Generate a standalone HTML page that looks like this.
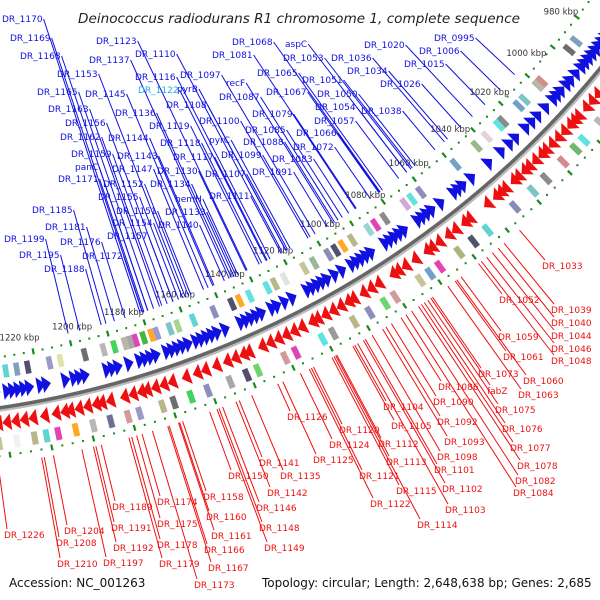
<!DOCTYPE html>
<html><head><meta charset="utf-8">
<style>
html,body{margin:0;padding:0;background:#fff;}
svg{display:block;}
text{font-family:"DejaVu Sans","Liberation Sans",sans-serif;}
</style></head>
<body>
<svg id="map" width="600" height="600" viewBox="0 0 600 600" xmlns="http://www.w3.org/2000/svg">
<rect width="600" height="600" fill="#fff"/>
<g id="marks"></g>
<text x="299" y="23" text-anchor="middle" font-size="13.6" font-style="italic" fill="#222">Deinococcus radiodurans R1 chromosome 1, complete sequence</text>
<text x="9" y="587" font-size="12" fill="#111">Accession: NC_001263</text>
<text x="262" y="587" font-size="12" fill="#111">Topology: circular; Length: 2,648,638 bp; Genes: 2,685</text>
</svg>
<script>
// ---- data ----
const tickKbp = [980,1000,1020,1040,1060,1080,1100,1120,1140,1160,1180,1200,1220];
const fwdGenes = [975,977,979,981,983,985,987,989,992,995,997,1000,1002,1004,1008,1012,1015,1018,1023,1026,1030,1036,1044,1048,1050,1052,1058,1062,1064,1066,1068,1074,1076,1078,1080,1082,1088,1090,1092,1094,1096,1100,1103,1106,1108,1110,1112,1114,1120,1123,1126,1128,1132,1134,1136,1138,1140,1146,1149,1151,1153,1155,1157,1160,1162,1164,1166,1168,1172,1174,1176,1178,1182,1186,1188,1190,1198,1200,1202,1205,1212,1214,1218,1220,1222,1224,1226,1230,1232,1234];
const revGenes = [978,982,986,990,993,996,999,1003,1005,1007,1010,1013,1016,1019,1021,1024,1027,1029,1032,1034,1038,1040,1042,1046,1054,1056,1060,1063,1067,1070,1072,1077,1081,1084,1086,1092,1095,1098,1102,1104,1107,1110,1113,1116,1118,1122,1125,1128,1131,1134,1137,1142,1144,1147,1150,1154,1158,1161,1165,1170,1173,1176,1179,1181,1184,1187,1192,1195,1197,1200,1203,1206,1208,1211,1215,1219,1222,1225,1228,1231,1234];
const fwdBoxKbp = [984,988,1003,1005,1012,1015,1023,1025,1031,1036,1046,1062,1066,1069,1078,1082,1085,1092,1096,1099,1102,1108,1112,1120,1124,1127,1134,1138,1141,1148,1156,1162,1165,1170,1172,1175,1178,1180,1182,1186,1190,1197,1206,1210,1218,1222,1226,1230];
const fwdBoxCol = ["#6a8fb0","#555","#c77","#aa9","#6bb","#5a8fc0","#777","#4dd","#dcc","#8a7","#5a8fc0","#7a7ab0","#4dd","#c9c","#777","#d2a","#8cc","#aa7","#f90","#335","#77a","#8a8","#bb8","#ddd","#aa7","#4dd","#4dd","#f90","#335","#7a7ab0","#4cc","#9c7","#6bb","#88c","#f90","#2a2","#d2a","#999","#aa9","#2c4","#aaa","#555","#dd9","#88b","#335","#6a8fb0","#4cc","#eee"];
const revBoxKbp = [990,994,1000,1008,1012,1018,1026,1032,1040,1052,1058,1064,1072,1076,1080,1090,1094,1100,1106,1114,1118,1128,1132,1142,1146,1152,1160,1166,1172,1176,1184,1188,1194,1200,1206,1212,1216,1220,1226,1232];
const revBoxCol = ["#6a8fb0","#9c7","#aaa","#4dd","#5a5","#c77","#777","#6bb","#77a","#4cc","#335","#9a6","#d2a","#5a8fc0","#bb8","#c88","#5c5","#7a7ab0","#aa7","#888","#4dd","#d2a","#c88","#5c5","#335","#999","#7a7ab0","#2c4","#555","#aa7","#88b","#c88","#558","#aaa","#f90","#d2a","#4cc","#aa7","#eee","#bb8"];
const blueLabels = [
["DR_1170",2,22],["DR_1169",10,41],["DR_1168",20,59],["DR_1153",57,77],["DR_1165",37,95],["DR_1145",85,97],["DR_1163",48,112],["DR_1156",65,126],["DR_1162",60,140],["DR_1159",71,157],["panC",75,170],["DR_1171",58,182],["DR_1155",98,200],["DR_1151",116,214],["DR_1154",112,226],["DR_1157",107,239],["DR_1185",32,213],["DR_1181",45,230],["DR_1176",60,245],["DR_1199",4,242],["DR_1195",19,258],["DR_1172",82,259],["DR_1188",44,272],
["DR_1123",96,44],["DR_1137",89,63],["DR_1110",135,57],["DR_1116",135,80],["DR_1097",180,78],["pyrB",177,92],["DR_1122",138,93],["DR_1136",115,116],["DR_1108",166,108],["DR_1144",108,141],["DR_1119",149,129],["DR_1143",117,159],["DR_1118",160,146],["DR_1100",199,124],["DR_1147",112,172],["DR_1130",157,174],["DR_1152",103,187],["DR_1134",150,187],["DR_1117",173,160],["DR_1107",205,177],["pyrC",209,143],["DR_1099",221,158],["hemH",175,202],["DR_1133",165,215],["DR_1140",158,228],["DR_1111",209,199],
["DR_1081",212,58],["DR_1068",232,45],["recF",226,86],["DR_1065",257,76],["DR_1087",219,100],["DR_1067",266,95],["DR_1079",252,117],["DR_1085",245,133],["DR_1088",243,145],["DR_1083",272,162],["DR_1091",252,175],["aspC",285,47],["DR_1053",283,61],["DR_1051",302,83],["DR_1036",331,61],["DR_1050",317,97],["DR_1034",347,74],["DR_1054",315,110],["DR_1057",314,124],["DR_1066",296,136],["DR_1072",293,150],["DR_1020",364,48],["DR_1006",419,54],["DR_0995",434,41],["DR_1015",404,67],["DR_1026",380,87],["DR_1038",361,114]];
const redLabels = [
["DR_1033",542,269],["DR_1052",499,303],["DR_1039",551,313],["DR_1040",551,326],["DR_1059",498,340],["DR_1044",551,339],["DR_1046",551,352],["DR_1061",503,360],["DR_1048",551,364],["DR_1073",478,377],["DR_1060",523,384],["DR_1086",438,390],["fabZ",487,394],["DR_1063",518,398],["DR_1090",433,405],["DR_1075",495,413],["DR_1104",383,410],["DR_1092",437,425],["DR_1076",502,432],["DR_1105",391,429],["DR_1126",287,420],["DR_1120",339,433],["DR_1093",444,445],["DR_1077",510,451],["DR_1124",329,448],["DR_1112",378,447],["DR_1098",437,460],["DR_1125",313,463],["DR_1113",386,465],["DR_1101",434,473],["DR_1078",517,469],["DR_1141",259,466],["DR_1121",359,479],["DR_1082",515,484],["DR_1150",228,479],["DR_1135",280,479],["DR_1102",442,492],["DR_1084",513,496],["DR_1115",396,494],["DR_1142",267,496],["DR_1158",203,500],["DR_1174",157,505],["DR_1122",370,507],["DR_1103",445,513],["DR_1146",256,511],["DR_1189",112,510],["DR_1160",206,520],["DR_1175",157,527],["DR_1114",417,528],["DR_1191",111,531],["DR_1226",4,538],["DR_1204",64,534],["DR_1148",259,531],["DR_1161",211,539],["DR_1178",157,548],["DR_1192",113,551],["DR_1208",56,546],["DR_1166",204,553],["DR_1149",264,551],["DR_1179",159,567],["DR_1197",103,566],["DR_1210",57,567],["DR_1167",208,571],["DR_1173",194,588]];

// ---- geometry ----
const NS="http://www.w3.org/2000/svg";
const CX=-140, CY=-540, R0=958;
const g=document.getElementById('marks');
function ang(k){return (38.2+(k-980)*0.1729)*Math.PI/180;}
function pt(r,k){const a=ang(k);return [CX+r*Math.cos(a),CY+r*Math.sin(a)];}
function mk(tag,attrs){const e=document.createElementNS(NS,tag);for(const k in attrs)e.setAttribute(k,attrs[k]);g.appendChild(e);return e;}
function arcPath(r,k1,k2){const a=pt(r,k1),b=pt(r,k2);return `M${a[0]},${a[1]} A${r},${r} 0 0 1 ${b[0]},${b[1]}`;}
function sector(r1,r2,k1,k2){const a=pt(r1,k1),b=pt(r2,k1),c=pt(r2,k2),d=pt(r1,k2);return `M${a}L${b}L${c}L${d}Z`;}

let e=mk('path',{d:arcPath(R0+2,950,1260),stroke:'#bbb','stroke-width':4,fill:'none'});


e=mk('path',{d:arcPath(R0,950,1260),stroke:'#666','stroke-width':3.5,fill:'none'});



let idx=0;
for(let k=950;k<=1260;k+=3.5,idx++){
  [R0-50,R0+48].forEach(r=>{
    const major=(idx%4===0);
    if(major){const a=pt(r-3,k),b=pt(r+3,k);
      e=mk('line',{x1:a[0],y1:a[1],x2:b[0],y2:b[1],stroke:'#1a8a1a','stroke-width':2.2});}
    else{const a=pt(r,k);e=mk('rect',{x:a[0]-1,y:a[1]-1,width:2,height:2,fill:'#1a8a1a'});}
    
    
  });
}
tickKbp.forEach(k=>{const p=pt(R0-66,k);
  e=mk('text',{x:p[0],y:p[1]+3,'text-anchor':'middle','font-size':8.5,fill:'#333'});
  e.textContent=k+' kbp';
  
  
});
fwdGenes.forEach(k=>{const a=pt(R0-24,k+3),b=pt(R0-7,k+3),t=pt(R0-15.5,k);
  e=mk('path',{d:`M${a}L${b}L${t}Z`,fill:'#1010e0'});
  
  
});
revGenes.forEach(k=>{const a=pt(R0+7,k),b=pt(R0+24,k),t=pt(R0+15.5,k+3);
  e=mk('path',{d:`M${a}L${b}L${t}Z`,fill:'#ee1010'});
  
  
});
fwdBoxKbp.forEach((k,i)=>{e=mk('path',{d:sector(R0-42,R0-29,k,k+2),fill:fwdBoxCol[i],opacity:0.85});
  
  });
revBoxKbp.forEach((k,i)=>{e=mk('path',{d:sector(R0+29,R0+42,k,k+2),fill:revBoxCol[i],opacity:0.85});
  
  });

function label(txt,x,y,col,isBlue){
  const t=mk('text',{x:x,y:y,'font-size':9,fill:col});
  t.textContent=txt;
  
  
  const w=t.getComputedTextLength();
  let ax,ay,rr;
  if(isBlue){ax=x+w+1;ay=y-3;rr=R0-60;}else{ax=x+3;ay=y-9;rr=R0+56;}
  const dx=ax-CX,dy=ay-CY,d=Math.hypot(dx,dy);
  if((isBlue&&d<rr)||(!isBlue&&d>rr)){
    const ex=CX+dx*rr/d,ey=CY+dy*rr/d;
    const l=mk('line',{x1:ax,y1:ay,x2:ex,y2:ey,stroke:isBlue?'#1010e0':'#ee1010','stroke-width':1});
    
    
  }
}
blueLabels.forEach(l=>label(l[0],l[1],l[2],(l[0]==='DR_1122'&&l[1]===138)?'#22aaee':'#1010e0',true));
redLabels.forEach(l=>label(l[0],l[1],l[2],'#ee1010',false));
</script>
</body></html>
